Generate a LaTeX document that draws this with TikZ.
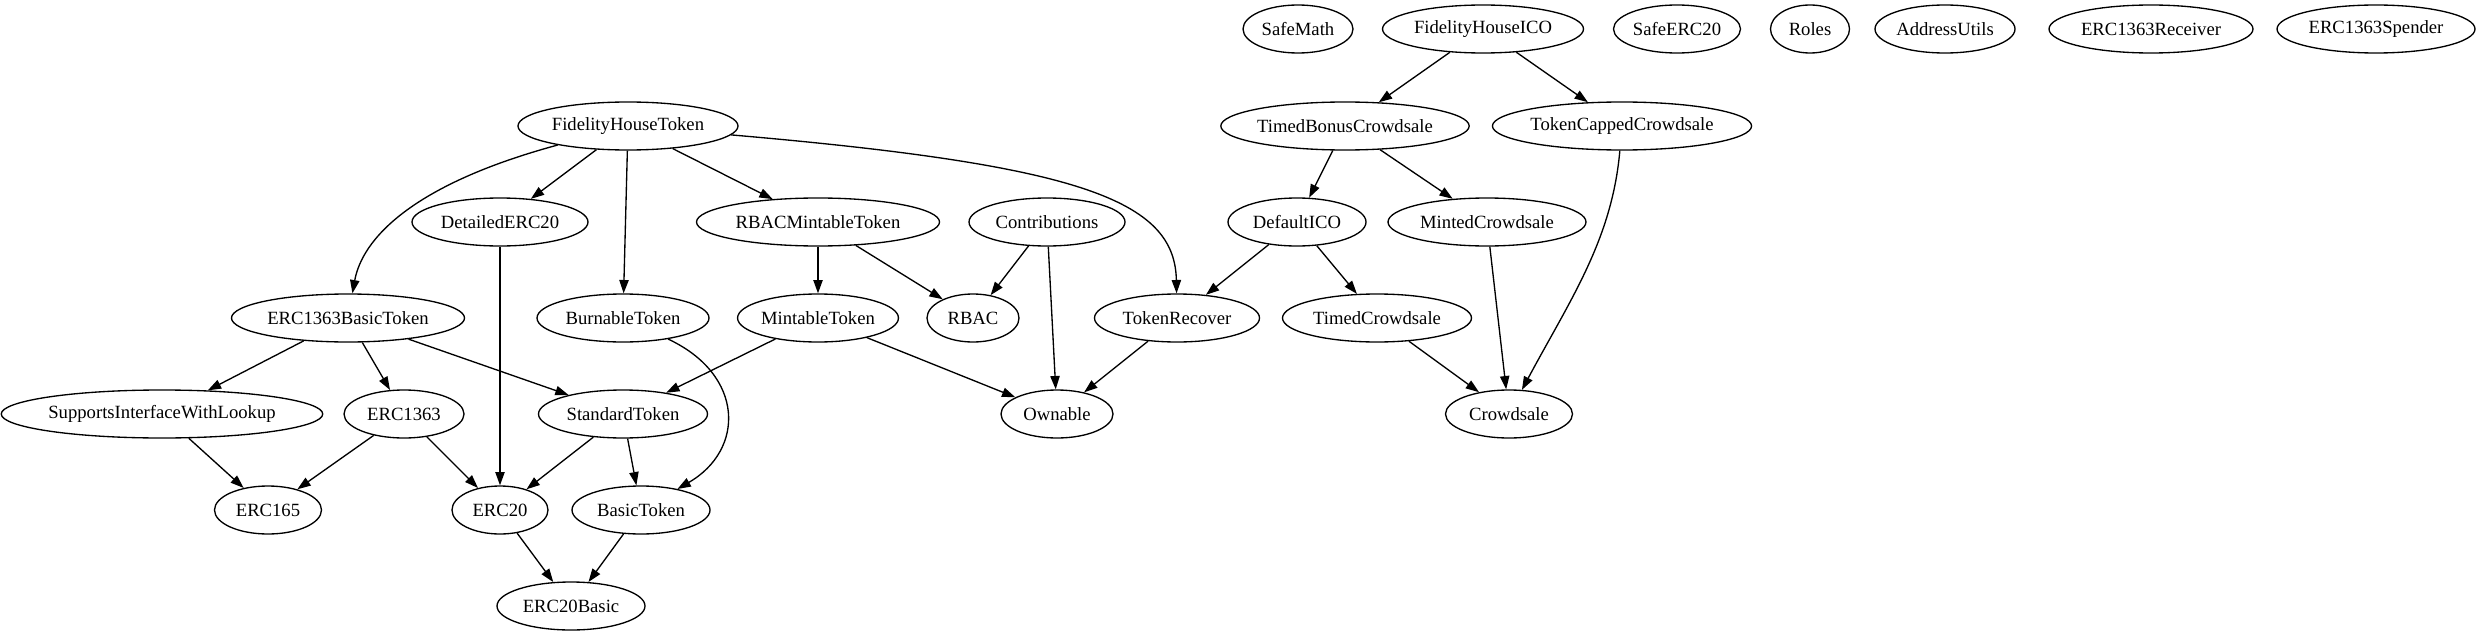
\documentclass[tikz,border=0pt]{standalone}
\usepackage{fontspec}
\setmainfont{Liberation Serif}
\usepackage{tikz}
\usetikzlibrary{shapes,arrows.meta,positioning,calc}

\begin{document}
\begin{tikzpicture}[
    x=0.75pt, y=-0.75pt,
    cls/.style={ellipse, draw=black, line width=1pt, inner sep=0pt, minimum height=36pt, minimum width=#1*0.75pt, font=\fontsize{14}{16}\selectfont},
    dep/.style={-{Triangle[length=10pt,width=7pt]}, line width=1pt, draw=black}
]
    \useasboundingbox (0,0) rectangle (2480,635);

    \node [cls=110] (safemath) at (1298,29) {SafeMath};
    \node [cls=201] (fhico) at (1483,29) {FidelityHouseICO};
    \node [cls=127] (safeerc) at (1677,29) {SafeERC20};
    \node [cls=79] (roles) at (1810,29) {Roles};
    \node [cls=140] (addr) at (1945,29) {AddressUtils};
    \node [cls=204] (receiver) at (2151,29) {ERC1363Receiver};
    \node [cls=198] (spender) at (2376,29) {ERC1363Spender};

    \node [cls=220] (fht) at (628,126) {FidelityHouseToken};
    \node [cls=247] (tbc) at (1345,126) {TimedBonusCrowdsale};
    \node [cls=258] (tcc) at (1622,126) {TokenCappedCrowdsale};

    \node [cls=176] (detailed) at (500,222) {DetailedERC20};
    \node [cls=243] (rbacmint) at (818,222) {RBACMintableToken};
    \node [cls=156] (contrib) at (1047,222) {Contributions};
    \node [cls=138] (defico) at (1297,222) {DefaultICO};
    \node [cls=198] (minted) at (1487,222) {MintedCrowdsale};

    \node [cls=233] (ebt) at (348,318) {ERC1363BasicToken};
    \node [cls=172] (burnable) at (623,318) {BurnableToken};
    \node [cls=155] (mintable) at (818,318) {MintableToken};
    \node [cls=92] (rbac) at (973,318) {RBAC};
    \node [cls=165] (recover) at (1177,318) {TokenRecover};
    \node [cls=189] (timed) at (1377,318) {TimedCrowdsale};

    \node [cls=314] (siwl) at (162,414) {SupportsInterfaceWithLookup};
    \node [cls=120] (erc1363) at (404,414) {ERC1363};
    \node [cls=169] (standard) at (623,414) {StandardToken};
    \node [cls=112] (ownable) at (1057,414) {Ownable};
    \node [cls=127] (crowdsale) at (1509,414) {Crowdsale};

    \node [cls=107] (erc165) at (268,510) {ERC165};
    \node [cls=96] (erc20) at (500,510) {ERC20};
    \node [cls=138] (basic) at (641,510) {BasicToken};

    \node [cls=148] (erc20basic) at (571,606) {ERC20Basic};

    % token side
    \draw [dep] (fht) .. controls (410,185) and (362,240) .. (ebt);
    \draw [dep] (fht) -- (detailed);
    \draw [dep] (fht) -- (burnable);
    \draw [dep] (fht) -- (rbacmint);
    \draw [dep] (fht) .. controls (1080,165) and (1175,200) .. (recover);
    \draw [dep] (detailed) -- (erc20);
    \draw [dep] (rbacmint) -- (mintable);
    \draw [dep] (rbacmint) -- (rbac);
    \draw [dep] (contrib) -- (rbac);
    \draw [dep] (contrib) -- (ownable);
    \draw [dep] (ebt) -- (siwl);
    \draw [dep] (ebt) -- (erc1363);
    \draw [dep] (ebt) -- (standard);
    \draw [dep] (burnable) .. controls (745,375) and (745,450) .. (basic);
    \draw [dep] (mintable) -- (standard);
    \draw [dep] (mintable) -- (ownable);
    \draw [dep] (recover) -- (ownable);
    \draw [dep] (siwl) -- (erc165);
    \draw [dep] (erc1363) -- (erc165);
    \draw [dep] (erc1363) -- (erc20);
    \draw [dep] (standard) -- (erc20);
    \draw [dep] (standard) -- (basic);
    \draw [dep] (erc20) -- (erc20basic);
    \draw [dep] (basic) -- (erc20basic);

    % crowdsale side
    \draw [dep] (fhico) -- (tbc);
    \draw [dep] (fhico) -- (tcc);
    \draw [dep] (tbc) -- (defico);
    \draw [dep] (tbc) -- (minted);
    \draw [dep] (defico) -- (recover);
    \draw [dep] (defico) -- (timed);
    \draw [dep] (minted) -- (crowdsale);
    \draw [dep] (timed) -- (crowdsale);
    \draw [dep] (tcc) .. controls (1612,240) and (1570,300) .. (crowdsale);
\end{tikzpicture}
\end{document}
